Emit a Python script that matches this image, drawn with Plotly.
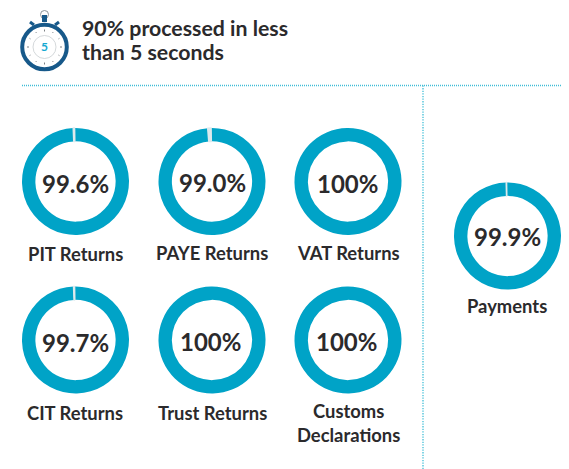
import numpy as np
import plotly.graph_objects as go

W, H = 569, 469

# ---- data ----
categories = ["PIT Returns", "PAYE Returns", "VAT Returns", "CIT Returns",
              "Trust Returns", "Customs<br>Declarations", "Payments"]
processed = [99.6, 99.0, 100, 99.7, 100, 100, 99.9]
value_labels = ["99.6%", "99.0%", "100%", "99.7%", "100%", "100%", "99.9%"]
title_lines = ["90% processed in less", "than 5 seconds"]

# ---- layout (pixels) ----
centers_x = [75.5, 212, 348, 75.5, 212, 348, 507.5]
centers_y = [181.5, 181.5, 181.5, 340, 340, 340, 236]
value_x = [75, 212, 347.5, 75, 210.5, 346, 507]
value_y = [183.5, 182, 183.5, 342, 341, 341, 236.5]
label_x = [75.5, 212, 348, 75.5, 212, 348, 507.5]
label_y = [254, 253, 253, 412.5, 412.5, 423, 306]
R = 53.5
TEAL, GAP, INK = "#00a3c7", "#dde9ec", "#2b2a2c"
NAVY, DOT, GREY = "#17598a", "#3fbdd6", "#c9ced1"

px = lambda x: x / W
py = lambda y: 1 - y / H

fig = go.Figure()
for v, cx, cy in zip(processed, centers_x, centers_y):
    fig.add_trace(go.Pie(
        values=[v, round(100 - v, 1)],
        labels=["Processed", "Other"],
        hole=0.75, sort=False, direction="clockwise", rotation=-1,
        textinfo="none", hoverinfo="skip", showlegend=False,
        marker=dict(colors=[TEAL, GAP],
                    line=dict(color=[TEAL, GAP], width=[0, 1.5 if v < 100 else 0])),
        domain=dict(x=[px(cx - R), px(cx + R)], y=[py(cy + R), py(cy - R)]),
    ))

ann = []
def text(x, y, s, size, color=INK, anchor="center", family="Lato"):
    ann.append(dict(x=px(x), y=py(y), xref="paper", yref="paper", text=s,
                    showarrow=False, xanchor=anchor, yanchor="middle",
                    font=dict(family=family, size=size, color=color, weight="bold")))

for lab, val, vx, vy, lx, ly in zip(categories, value_labels, value_x, value_y, label_x, label_y):
    text(vx, vy, val, 24)
    text(lx, ly, lab, 18.4)
for line_text, y in zip(title_lines, [28, 52.5]):
    text(79.5, y, line_text, 21.3, anchor="left")
text(44.8, 46, "5", 12, color="#16a9d2")

shapes = []
def line(x0, y0, x1, y1, color, width, dash="solid"):
    shapes.append(dict(type="line", xref="paper", yref="paper", x0=px(x0), y0=py(y0),
                       x1=px(x1), y1=py(y1), line=dict(color=color, width=width, dash=dash)))
def circle(cx, cy, r, color, width, fill="rgba(0,0,0,0)"):
    shapes.append(dict(type="circle", xref="paper", yref="paper", x0=px(cx - r), x1=px(cx + r),
                       y0=py(cy + r), y1=py(cy - r), fillcolor=fill,
                       line=dict(color=color, width=width)))

# dotted separators
line(22, 85.5, 562, 85.5, DOT, 1.3, "1px,1px")
line(423, 85.5, 423, 469, DOT, 1.3, "1.3px,1.3px")

# stopwatch icon
cx, cy = 44.5, 47
circle(cx, 14.5, 4, "#8d9499", 1)
line(cx, 15, cx, 22, NAVY, 5)
line(30, 22, 34, 25, NAVY, 3)
line(59, 22, 55, 25, NAVY, 3)
circle(cx, cy, 22.3, NAVY, 4, "white")
circle(cx, cy, 11.5, GREY, 0.8)
for a in np.arange(0, 360, 30):
    t = np.deg2rad(a)
    r0, r1 = (15.5, 17.5) if a % 90 == 0 else (16.2, 17.2)
    line(cx + r0 * np.sin(t), cy - r0 * np.cos(t),
         cx + r1 * np.sin(t), cy - r1 * np.cos(t), "#5b6166", 0.8)

fig.update_layout(width=W, height=H, margin=dict(l=0, r=0, t=0, b=0),
                  paper_bgcolor="white", plot_bgcolor="white",
                  annotations=ann, shapes=shapes)
fig.write_html("out.html", config=dict(displayModeBar=False),
               post_script="document.body.style.margin='0';")
